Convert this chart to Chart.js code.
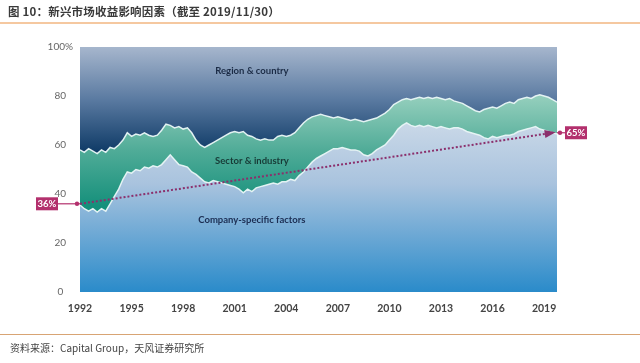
<!DOCTYPE html>
<html><head><meta charset="utf-8">
<script src="https://cdn.jsdelivr.net/npm/chart.js@4.4.1/dist/chart.umd.min.js"></script>
<style>
html,body{margin:0;padding:0;background:#fff;}
#wrap{position:relative;width:640px;height:363px;overflow:hidden;font-family:"Noto Sans CJK SC","Noto Sans",sans-serif;}
#title{position:absolute;left:8px;top:3px;font-size:11.5px;font-weight:bold;color:#3a3a3a;letter-spacing:0.2px;}
#topline{position:absolute;left:0;top:22px;width:640px;height:2px;background:#f5c8a0;}
#botline{position:absolute;left:0;top:334px;width:640px;height:1px;background:#d8a474;}
#src{position:absolute;left:10px;top:340px;font-size:10px;color:#444;}
#cv{position:absolute;left:0;top:0;}
</style></head>
<body><div id="wrap">
<canvas id="cv" width="640" height="363"></canvas>
<div id="title">图 10：新兴市场收益影响因素（截至 2019/11/30）</div>
<div id="topline"></div>
<div id="botline"></div>
<div id="src">资料来源：Capital Group，天风证券研究所</div>
</div>
<script>
// Quarterly observations, 1992 Q1 .. 2019 Q4
const startYear = 1992;
const tickYears = ['1992','1995','1998','2001','2004','2007','2010','2013','2016','2019'];
const yTicks = [0,20,40,60,80,100];
// share explained by company-specific factors (%)
const companySpecific = [
35.5,34,33,34, 32.6,34,33,36, 39,42,46,49, 48.5,50,49.5,51,
50.5,51.5,51,52, 54,56,54,52, 51.5,51,49,48, 46.5,45,44.5,45.5,
45,44.5,44,43.5, 43,42,40.5,42, 41,42.5,43,43.5, 44,44.5,44,45,
45,46,45.5,47.5, 49,51,53,54.5, 55.5,56.5,57.5,58.5, 58.5,59,58.5,58,
58,57.5,56,55.5, 56.5,58,59,60, 62,64,66.5,68, 69,68,67.5,68,
67.5,68,67.5,67, 67.5,67,66.5,67, 67,66.5,65.5,65, 64.5,64,63,62.5,
63.5,63,63.5,64, 64,64.5,65.5,66, 66.5,67,67.5,66.5, 66,65.5,65,64.5
];
// company-specific + sector & industry (%)
const companyPlusSector = [
58,57,58.5,57.5, 56.5,58,57,59, 58.5,60,62,65, 63.5,64.5,64,65,
64,63.5,64,66, 68.5,68,67,67.5, 66.5,67,65,62, 60,59,60,61,
62,63,64,65, 65.5,65,65.5,64, 63.5,62.5,62,62.5, 62,62,63.5,64,
63.5,64,65,67, 69,70.5,71.5,72, 72.5,72,71.5,71, 71.5,71,70.5,70,
70.5,70,69.5,70, 70.5,71,72,73, 74.5,76.5,77.5,78.5, 79,78.5,79,79.5,
79,79.5,79,79.5, 79,78.5,79,78, 77.5,77,76,75, 74,73.5,74.5,75,
75.5,75,76,77, 77.5,77,78.5,79, 79.5,79,80,80.5, 80,79.5,78.5,77.5
];
// trend of company-specific share: start and end values
const trendStart = 36, trendEnd = 65;
const regionLabels = ['Region & country','Sector & industry','Company-specific factors'];

const labels = [];
for (let y = startYear; y <= 2019; y++) for (let q = 0; q < 4; q++) labels.push(String(y));
const trend = labels.map(() => null);
trend[0] = trendStart; trend[110] = trendEnd;

function grad(chart, stops, v0, v1){
  const {ctx, chartArea, scales} = chart;
  if (!chartArea) return null;
  const y0 = scales.y.getPixelForValue(v0), y1 = scales.y.getPixelForValue(v1);
  const g = ctx.createLinearGradient(0, y0, 0, y1);
  stops.forEach(s => g.addColorStop(s[0], s[1]));
  return g;
}

const lineCol = 'rgba(232,246,246,0.95)';

const overlay = {
  id:'overlay',
  afterDatasetsDraw(chart){
    const {ctx, scales:{x,y}} = chart;
    ctx.save();
    // arrow head at trend end
    const ax = x.getPixelForValue(110), ay = y.getPixelForValue(trendEnd);
    const bx = x.getPixelForValue(0), by = y.getPixelForValue(trendStart);
    const ang = Math.atan2(ay-by, ax-bx);
    ctx.fillStyle = '#8b2f6c';
    ctx.beginPath();
    ctx.moveTo(ax+3*Math.cos(ang), ay+3*Math.sin(ang));
    ctx.lineTo(ax-8*Math.cos(ang)+4*Math.sin(ang), ay-8*Math.sin(ang)-4*Math.cos(ang));
    ctx.lineTo(ax-8*Math.cos(ang)-4*Math.sin(ang), ay-8*Math.sin(ang)+4*Math.cos(ang));
    ctx.closePath(); ctx.fill();
    // labels for regions
    ctx.textAlign='center'; ctx.textBaseline='middle';
    ctx.font = 'bold 9.5px "Lato","Noto Sans",sans-serif';
    const cx = x.getPixelForValue(40);
    ctx.fillStyle = '#1b2b45';
    ctx.fillText(regionLabels[0], cx, y.getPixelForValue(90.2));
    ctx.fillStyle = '#173a36';
    ctx.fillText(regionLabels[1], cx, y.getPixelForValue(53.5));
    ctx.fillStyle = '#1b2d52';
    ctx.fillText(regionLabels[2], cx, y.getPixelForValue(29.4));
    // percentage callouts
    function callout(val, side){
      const py = y.getPixelForValue(val);
      const edge = side === 'left' ? x.left : x.right;
      const bw = 22, bh = 13;
      const bxp = side === 'left' ? edge - 44 : edge + 8;
      ctx.strokeStyle = '#b3306d'; ctx.lineWidth = 1.2;
      ctx.beginPath();
      if (side==='left'){ ctx.moveTo(bxp+bw, py); ctx.lineTo(edge, py); }
      else { ctx.moveTo(edge, py); ctx.lineTo(bxp, py); }
      ctx.stroke();
      ctx.fillStyle = '#b3306d';
      ctx.beginPath(); ctx.arc(side==='left'? edge-3 : edge+3, py, 2.2, 0, Math.PI*2); ctx.fill();
      ctx.fillRect(bxp, py-bh/2, bw, bh);
      ctx.fillStyle = '#fff';
      ctx.font = 'bold 9.5px "Lato","Noto Sans",sans-serif';
      ctx.textAlign='center';
      ctx.fillText(val + '%', bxp + bw/2, py+0.5);
    }
    callout(trendStart,'left');
    callout(trendEnd,'right');
    ctx.restore();
  }
};

new Chart(document.getElementById('cv'), {
  type:'line',
  data:{ labels, datasets:[
    { data: companySpecific, fill:'origin', borderColor: lineCol, borderWidth:1.5, pointRadius:0, tension:0,
      backgroundColor: c => grad(c.chart, [[0,'#c8d7e7'],[0.35,'#a9c3de'],[1,'#2a8bca']], 68, 0) },
    { data: companyPlusSector, fill:'-1', borderColor: lineCol, borderWidth:1.5, pointRadius:0, tension:0,
      backgroundColor: c => grad(c.chart, [[0,'#95cfbd'],[0.5,'#4fab97'],[1,'#15907b']], 80, 35) },
    { data: companyPlusSector, fill:'end', borderColor: 'rgba(0,0,0,0)', borderWidth:0, pointRadius:0, tension:0,
      backgroundColor: c => grad(c.chart, [[0,'#a6b6cd'],[0.5,'#5a7aa1'],[1,'#0e3a66']], 100, 57) },
    { data: trend, spanGaps:true, fill:false, order:-1, borderColor:'#8b2f6c', borderWidth:2, borderDash:[2,2],
      pointRadius:0, tension:0 }
  ]},
  options:{
    responsive:false, animation:false,
    layout:{ padding:{ left:0, right:83, top:47, bottom:0 } },
    plugins:{ legend:{display:false}, tooltip:{enabled:false} },
    scales:{
      x:{ offset:false, grid:{display:false, drawTicks:false}, border:{display:false},
          afterFit(s){ s.height = 71; },
          ticks:{ autoSkip:false, maxRotation:0, padding:10, color:'#444',
            font:{ size:10.5, weight:'bold', family:'"Lato","Noto Sans",sans-serif' },
            callback(v, i){ const l = this.getLabelForValue(v); return (i % 4 === 0 && tickYears.includes(l)) ? l : null; } } },
      y:{ min:0, max:100, grid:{display:false, drawTicks:false}, border:{display:false},
          afterFit(s){ s.width = 80; },
          afterBuildTicks(s){ s.ticks = yTicks.map(v => ({value:v})); },
          ticks:{ padding:7, crossAlign:'center', color:'#666',
            font:{ size:10, family:'"Lato","Noto Sans",sans-serif' },
            callback(v){ return v === 100 ? '100%' : String(v); } } }
    }
  },
  plugins:[overlay]
});
</script>
</body></html>
